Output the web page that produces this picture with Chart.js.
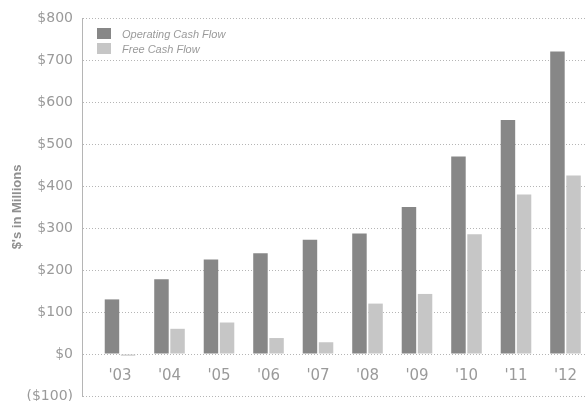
<!DOCTYPE html>
<html lang="en">
    <head>
        <meta charset="UTF-8" />
        <title>Cash Flow</title>
        <style>
            body {
                margin: 0;
                background: #fff;
            }

            .chartBox {
                position: relative;
                width: 585px;
                height: 401px;
            }

            .legend {
                position: absolute;
                left: 97px;
                top: 27px;
                font-family: "Liberation Sans", Arial;
                font-style: italic;
                font-size: 11px;
                color: #9a9a9a;
            }

            .legend div {
                height: 15px;
                line-height: 15px;
            }

            .legend span {
                display: inline-block;
                width: 14px;
                height: 11px;
                margin-right: 11px;
                vertical-align: -1px;
            }
        </style>
    </head>
    <body>
        <div class="chartBox">
            <canvas id="cashChart" width="585" height="401"></canvas>
            <div class="legend" id="legend"></div>
        </div>

        <script src="https://cdn.jsdelivr.net/npm/chart.js"></script>

        <script>
            // years on the x axis
            const years = ["'03", "'04", "'05", "'06", "'07", "'08", "'09", "'10", "'11", "'12"];

            // $ millions
            const operatingCash = [130, 178, 225, 240, 272, 287, 350, 470, 557, 720];
            const freeCash = [-4, 60, 75, 38, 28, 120, 143, 285, 380, 425];

            const yTicks = [-100, 0, 100, 200, 300, 400, 500, 600, 700, 800];

            const greyText = "#9a9a9a";
            const gridGrey = "#b5b5b5";

            const datasets = [
                {
                    label: "Operating Cash Flow",
                    backgroundColor: "#878787",
                    data: operatingCash.map(function (v, i) {
                        return { x: i, y: v };
                    }),
                },
                {
                    label: "Free Cash Flow",
                    backgroundColor: "#c6c6c6",
                    data: freeCash.map(function (v, i) {
                        return { x: i, y: v };
                    }),
                },
            ];

            // simple html legend, top left inside the plot
            const legend = document.getElementById("legend");
            datasets.forEach(function (ds) {
                const row = document.createElement("div");
                row.innerHTML =
                    '<span style="background:' + ds.backgroundColor + '"></span>' + ds.label;
                legend.appendChild(row);
            });

            const config = {
                type: "bar",
                data: { datasets: datasets },
                options: {
                    responsive: false,
                    animation: false,
                    categoryPercentage: 0.65,
                    barPercentage: 0.9,
                    layout: {
                        padding: { top: 18, bottom: 5, left: 0, right: 0 },
                    },
                    plugins: {
                        legend: { display: false },
                        tooltip: { enabled: false },
                    },
                    scales: {
                        x: {
                            type: "linear",
                            offset: false,
                            min: -0.768,
                            max: 9.394,
                            position: { y: 0 },
                            grid: { display: false },
                            border: { display: false },
                            // one tick per year only
                            afterBuildTicks: function (scale) {
                                scale.ticks = years.map(function (y, i) {
                                    return { value: i };
                                });
                            },
                            ticks: {
                                autoSkip: false,
                                maxRotation: 0,
                                padding: 5,
                                color: greyText,
                                font: { family: "DejaVu Sans", size: 15 },
                                callback: function (v) {
                                    return years[v];
                                },
                            },
                        },
                        y: {
                            min: yTicks[0],
                            max: yTicks[yTicks.length - 1],
                            afterFit: function (scale) {
                                scale.width = 82;
                                scale.paddingBottom = 0;
                            },
                            grid: {
                                color: gridGrey,
                                drawTicks: false,
                            },
                            border: {
                                color: gridGrey,
                                dash: [1, 2],
                            },
                            ticks: {
                                stepSize: 100,
                                padding: 9,
                                color: greyText,
                                font: { family: "DejaVu Sans", size: 14 },
                                callback: function (v) {
                                    return v < 0 ? "($" + -v + ")" : "$" + v;
                                },
                            },
                            title: {
                                display: true,
                                text: "$'s in Millions",
                                color: "#8f8f8f",
                                padding: { top: 10 },
                                font: { family: "Liberation Sans", size: 13, weight: "bold" },
                            },
                        },
                    },
                },
            };

            // dotted grid lines
            config.options.scales.y.grid.borderDash = [1, 2];

            const cashChart = new Chart(document.getElementById("cashChart"), config);
        </script>
    </body>
</html>
